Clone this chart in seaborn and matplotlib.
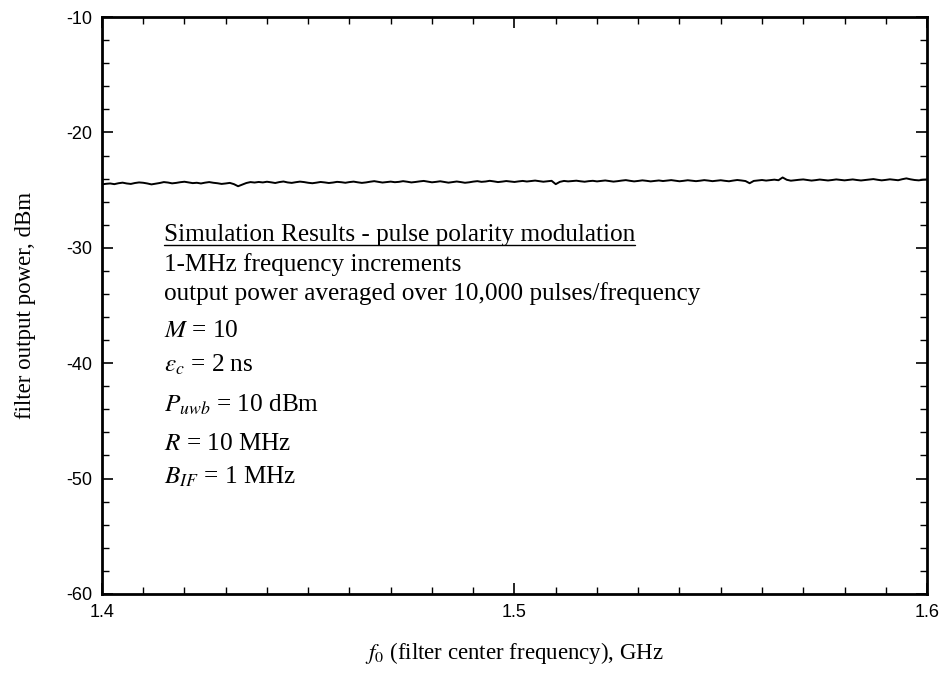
import numpy as np
import pandas as pd
import matplotlib
matplotlib.use("Agg")
import matplotlib.pyplot as plt
from matplotlib.ticker import MultipleLocator
from matplotlib.lines import Line2D
import seaborn as sns

# Filter centre frequency, GHz (1-MHz steps)
freq_start_ghz = 1.400
freq_step_ghz = 0.001

# Averaged filter output power, dBm, one value per frequency step
power_dbm = [
    -24.50, -24.45, -24.42, -24.48, -24.40, -24.35, -24.42, -24.46, -24.38, -24.33,
    -24.36, -24.42, -24.50, -24.44, -24.38, -24.30, -24.34, -24.41, -24.37, -24.31,
    -24.27, -24.33, -24.39, -24.36, -24.42, -24.35, -24.30, -24.36, -24.40, -24.46,
    -24.42, -24.37, -24.48, -24.66, -24.52, -24.38, -24.30, -24.34, -24.29, -24.33,
    -24.27, -24.32, -24.38, -24.30, -24.25, -24.33, -24.37, -24.31, -24.26, -24.30,
    -24.36, -24.40, -24.35, -24.29, -24.33, -24.38, -24.34, -24.28, -24.31, -24.36,
    -24.30, -24.26, -24.32, -24.37, -24.33, -24.27, -24.22, -24.28, -24.34, -24.30,
    -24.26, -24.31, -24.28, -24.22, -24.27, -24.33, -24.29, -24.24, -24.20, -24.26,
    -24.32, -24.28, -24.23, -24.29, -24.35, -24.30, -24.25, -24.30, -24.36, -24.32,
    -24.26, -24.22, -24.28, -24.25, -24.19, -24.24, -24.30, -24.26, -24.21, -24.25,
    -24.29, -24.24, -24.20, -24.25, -24.21, -24.17, -24.22, -24.27, -24.23, -24.19,
    -24.48, -24.28, -24.20, -24.24, -24.21, -24.18, -24.23, -24.27, -24.22, -24.19,
    -24.24, -24.20, -24.16, -24.21, -24.26, -24.22, -24.17, -24.13, -24.19, -24.24,
    -24.20, -24.15, -24.19, -24.24, -24.20, -24.16, -24.21, -24.17, -24.13, -24.18,
    -24.23, -24.19, -24.14, -24.18, -24.22, -24.18, -24.13, -24.17, -24.22, -24.18,
    -24.14, -24.19, -24.23, -24.17, -24.12, -24.16, -24.21, -24.40, -24.20, -24.16,
    -24.12, -24.17, -24.13, -24.09, -24.14, -23.90, -24.10, -24.18, -24.14, -24.10,
    -24.07, -24.12, -24.17, -24.13, -24.08, -24.12, -24.16, -24.12, -24.07, -24.11,
    -24.15, -24.11, -24.07, -24.12, -24.16, -24.12, -24.08, -24.04, -24.10, -24.15,
    -24.11, -24.06, -24.10, -24.14, -24.05, -23.98, -24.06, -24.12, -24.15, -24.10,
    -24.08,
]

freq_ghz = freq_start_ghz + freq_step_ghz * np.arange(len(power_dbm))

x_ticks = [1.4, 1.5, 1.6]
x_tick_labels = ["1.4", "1.5", "1.6"]
y_ticks = [-60, -50, -40, -30, -20, -10]
y_tick_labels = ["-60", "-50", "-40", "-30", "-20", "-10"]

notes_title = "Simulation Results - pulse polarity modulation"
notes = [
    "1-MHz frequency increments",
    "output power averaged over 10,000 pulses/frequency",
    r"$M$ = 10",
    r"$\varepsilon_c$ = 2 ns",
    r"$P_{uwb}$ = 10 dBm",
    r"$R$ = 10 MHz",
    r"$B_{IF}$ = 1 MHz",
]
# baseline of each note line, in dBm units of the y axis
notes_title_y = -29.4
notes_y = [-32.0, -34.5, -37.7, -40.75, -44.2, -47.5, -50.45]

df = pd.DataFrame({"freq": freq_ghz, "power": power_dbm})

sns.set_style("ticks")
plt.rcParams["font.family"] = ["Liberation Serif", "DejaVu Serif"]
plt.rcParams["mathtext.fontset"] = "stix"
plt.rcParams["text.color"] = "black"
plt.rcParams["axes.labelcolor"] = "black"

fig = plt.figure(figsize=(9.44, 6.85), dpi=100)
ax = fig.add_axes([0.108, 0.133, 0.874, 0.842])

sns.lineplot(data=df, x="freq", y="power", ax=ax, color="black", linewidth=1.4)

ax.set_xlim(1.4, 1.6)
ax.set_ylim(-60, -10)
ax.set_xticks(x_ticks)
ax.set_xticklabels(x_tick_labels)
ax.set_yticks(y_ticks)
ax.set_yticklabels(y_tick_labels)
ax.xaxis.set_minor_locator(MultipleLocator(0.01))
ax.yaxis.set_minor_locator(MultipleLocator(2))

ax.tick_params(which="both", direction="in", top=True, right=True,
               colors="black", labelcolor="black")
ax.tick_params(which="major", length=8, width=1.2, pad=7, labelsize=13,
               labelfontfamily="Liberation Sans")
ax.tick_params(which="minor", length=5, width=1.0)
for sp in ax.spines.values():
    sp.set_linewidth(2.0)
    sp.set_color("black")

ax.set_xlabel(r"$f_{\mathrm{0}}$ (filter center frequency), GHz", fontsize=16.5, labelpad=14)
ax.set_ylabel("filter output power, dBm", fontsize=16.5, labelpad=22)

# Annotation block with underlined heading
x0 = 1.4150
note_size = 18.2
title_txt = ax.text(x0, notes_title_y, notes_title, fontsize=note_size,
                    va="baseline", ha="left")
for s, yv in zip(notes, notes_y):
    ax.text(x0, yv, s, fontsize=note_size, va="baseline", ha="left")

fig.canvas.draw()
bb = title_txt.get_window_extent().transformed(ax.transAxes.inverted())
ax.add_line(Line2D([bb.x0, bb.x1], [bb.y0 + 0.002, bb.y0 + 0.002],
                   transform=ax.transAxes, color="black", linewidth=1.0))

fig.savefig("out.png", dpi=100)
